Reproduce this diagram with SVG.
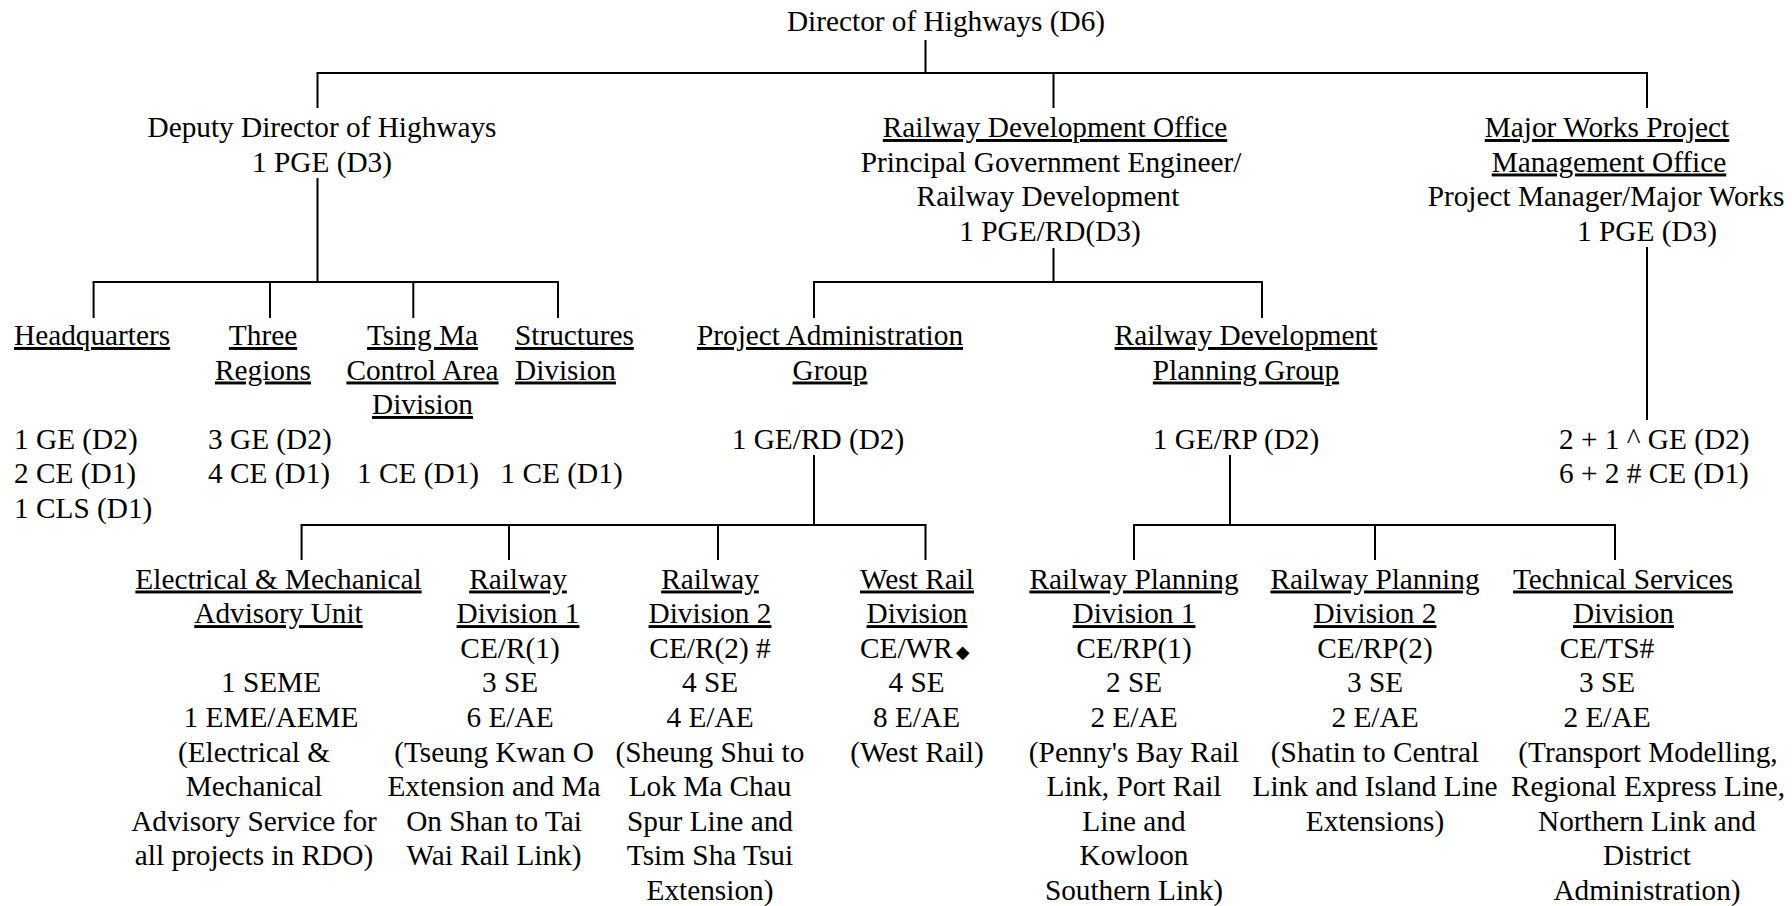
<svg xmlns="http://www.w3.org/2000/svg" width="1792" height="906" viewBox="0 0 1792 906">
<style>
text{font-family:"Liberation Serif","Times New Roman",serif;font-size:29.3px;fill:#000}
.m{text-anchor:middle}
.u{text-decoration:underline}
#connectors line{stroke:#000;stroke-width:2;fill:none}
</style>
<rect width="1792" height="906" fill="#fff"/>
<g id="connectors">
<line x1="925.5" y1="40" x2="925.5" y2="73"/>
<line x1="316.5" y1="73" x2="1648" y2="73"/>
<line x1="317.5" y1="73" x2="317.5" y2="108"/>
<line x1="1053.5" y1="73" x2="1053.5" y2="108"/>
<line x1="1647" y1="73" x2="1647" y2="108"/>
<line x1="317.5" y1="178" x2="317.5" y2="282"/>
<line x1="92.6" y1="282" x2="559" y2="282"/>
<line x1="93.6" y1="282" x2="93.6" y2="318"/>
<line x1="270" y1="282" x2="270" y2="318"/>
<line x1="413.3" y1="282" x2="413.3" y2="318"/>
<line x1="558" y1="282" x2="558" y2="318"/>
<line x1="1053.5" y1="248" x2="1053.5" y2="282"/>
<line x1="813" y1="282" x2="1263" y2="282"/>
<line x1="814" y1="282" x2="814" y2="318"/>
<line x1="1262" y1="282" x2="1262" y2="318"/>
<line x1="814" y1="455" x2="814" y2="525"/>
<line x1="300.6" y1="525" x2="926.5" y2="525"/>
<line x1="301.6" y1="525" x2="301.6" y2="560"/>
<line x1="509" y1="525" x2="509" y2="560"/>
<line x1="718" y1="525" x2="718" y2="560"/>
<line x1="925.5" y1="525" x2="925.5" y2="560"/>
<line x1="1230" y1="455" x2="1230" y2="525"/>
<line x1="1133" y1="525" x2="1616" y2="525"/>
<line x1="1134" y1="525" x2="1134" y2="560"/>
<line x1="1375" y1="525" x2="1375" y2="560"/>
<line x1="1615" y1="525" x2="1615" y2="560"/>
<line x1="1647" y1="247" x2="1647" y2="420"/>
</g>
<g id="director">
<text class="m" x="946" y="30.5">Director of Highways (D6)</text>
</g>
<g id="deputy">
<text class="m" x="322" y="137">Deputy Director of Highways</text>
<text class="m" x="322" y="171.5">1 PGE (D3)</text>
</g>
<g id="rdo">
<text class="m u" x="1055" y="137">Railway Development Office</text>
<text class="m" x="1051" y="171.5">Principal Government Engineer/</text>
<text class="m" x="1048" y="206">Railway Development</text>
<text class="m" x="1050" y="240.5">1 PGE/RD(D3)</text>
</g>
<g id="mwpmo">
<text class="m u" x="1607" y="137">Major Works Project</text>
<text class="m u" x="1609" y="171.5">Management Office</text>
<text class="m" x="1606" y="206">Project Manager/Major Works</text>
<text class="m" x="1647" y="240.5">1 PGE (D3)</text>
</g>
<g id="mwpmo-staff">
<text x="1559" y="448.5">2 + 1 ^ GE (D2)</text>
<text x="1559" y="483">6 + 2 # CE (D1)</text>
</g>
<g id="headquarters">
<text class="u" x="14" y="345">Headquarters</text>
<text x="14" y="448.5">1 GE (D2)</text>
<text x="14" y="483">2 CE (D1)</text>
<text x="14" y="517.5">1 CLS (D1)</text>
</g>
<g id="three-regions">
<text class="m u" x="263" y="345">Three</text>
<text class="m u" x="263" y="379.5">Regions</text>
<text x="208" y="448.5">3 GE (D2)</text>
<text x="208" y="483">4 CE (D1)</text>
</g>
<g id="tsing-ma">
<text class="m u" x="422.5" y="345">Tsing Ma</text>
<text class="m u" x="422.5" y="379.5">Control Area</text>
<text class="m u" x="422.5" y="414">Division</text>
<text x="357" y="483">1 CE (D1)</text>
</g>
<g id="structures">
<text class="u" x="515" y="345">Structures</text>
<text class="u" x="515" y="379.5">Division</text>
<text x="500.6" y="483">1 CE (D1)</text>
</g>
<g id="pag">
<text class="m u" x="830" y="345">Project Administration</text>
<text class="m u" x="830" y="379.5">Group</text>
<text class="m" x="818" y="448.5">1 GE/RD (D2)</text>
</g>
<g id="rdpg">
<text class="m u" x="1246" y="345">Railway Development</text>
<text class="m u" x="1246" y="379.5">Planning Group</text>
<text class="m" x="1236" y="448.5">1 GE/RP (D2)</text>
</g>
<g id="emau">
<text class="m u" x="278.5" y="588.5">Electrical &amp; Mechanical</text>
<text class="m u" x="278.5" y="623.1">Advisory Unit</text>
<text class="m" x="271" y="692.3">1 SEME</text>
<text class="m" x="271" y="726.9">1 EME/AEME</text>
<text class="m" x="254" y="761.5">(Electrical &amp;</text>
<text class="m" x="254" y="796.1">Mechanical</text>
<text class="m" x="254" y="830.7">Advisory Service for</text>
<text class="m" x="254" y="865.3">all projects in RDO)</text>
</g>
<g id="rd1">
<text class="m u" x="518" y="588.5">Railway</text>
<text class="m u" x="518" y="623.1">Division 1</text>
<text class="m" x="510" y="657.7">CE/R(1)</text>
<text class="m" x="510" y="692.3">3 SE</text>
<text class="m" x="510" y="726.9">6 E/AE</text>
<text class="m" x="494" y="761.5">(Tseung Kwan O</text>
<text class="m" x="494" y="796.1">Extension and Ma</text>
<text class="m" x="494" y="830.7">On Shan to Tai</text>
<text class="m" x="494" y="865.3">Wai Rail Link)</text>
</g>
<g id="rd2">
<text class="m u" x="710" y="588.5">Railway</text>
<text class="m u" x="710" y="623.1">Division 2</text>
<text class="m" x="710" y="657.7">CE/R(2) #</text>
<text class="m" x="710" y="692.3">4 SE</text>
<text class="m" x="710" y="726.9">4 E/AE</text>
<text class="m" x="710" y="761.5">(Sheung Shui to</text>
<text class="m" x="710" y="796.1">Lok Ma Chau</text>
<text class="m" x="710" y="830.7">Spur Line and</text>
<text class="m" x="710" y="865.3">Tsim Sha Tsui</text>
<text class="m" x="710" y="899.9">Extension)</text>
</g>
<g id="wr">
<text class="m u" x="917" y="588.5">West Rail</text>
<text class="m u" x="917" y="623.1">Division</text>
<text x="860" y="657.7">CE/WR<tspan dx="3" font-family="DejaVu Sans" font-size="18">◆</tspan></text>
<text class="m" x="916.5" y="692.3">4 SE</text>
<text class="m" x="916.5" y="726.9">8 E/AE</text>
<text class="m" x="917" y="761.5">(West Rail)</text>
</g>
<g id="rpd1">
<text class="m u" x="1134" y="588.5">Railway Planning</text>
<text class="m u" x="1134" y="623.1">Division 1</text>
<text class="m" x="1134" y="657.7">CE/RP(1)</text>
<text class="m" x="1134" y="692.3">2 SE</text>
<text class="m" x="1134" y="726.9">2 E/AE</text>
<text class="m" x="1134" y="761.5">(Penny's Bay Rail</text>
<text class="m" x="1134" y="796.1">Link, Port Rail</text>
<text class="m" x="1134" y="830.7">Line and</text>
<text class="m" x="1134" y="865.3">Kowloon</text>
<text class="m" x="1134" y="899.9">Southern Link)</text>
</g>
<g id="rpd2">
<text class="m u" x="1375" y="588.5">Railway Planning</text>
<text class="m u" x="1375" y="623.1">Division 2</text>
<text class="m" x="1375" y="657.7">CE/RP(2)</text>
<text class="m" x="1375" y="692.3">3 SE</text>
<text class="m" x="1375" y="726.9">2 E/AE</text>
<text class="m" x="1375" y="761.5">(Shatin to Central</text>
<text class="m" x="1375" y="796.1">Link and Island Line</text>
<text class="m" x="1375" y="830.7">Extensions)</text>
</g>
<g id="tsd">
<text class="m u" x="1623" y="588.5">Technical Services</text>
<text class="m u" x="1623.5" y="623.1">Division</text>
<text class="m" x="1607" y="657.7">CE/TS#</text>
<text class="m" x="1607" y="692.3">3 SE</text>
<text class="m" x="1607" y="726.9">2 E/AE</text>
<text class="m" x="1648" y="761.5">(Transport Modelling,</text>
<text class="m" x="1648" y="796.1">Regional Express Line,</text>
<text class="m" x="1647" y="830.7">Northern Link and</text>
<text class="m" x="1647" y="865.3">District</text>
<text class="m" x="1647" y="899.9">Administration)</text>
</g>
</svg>
